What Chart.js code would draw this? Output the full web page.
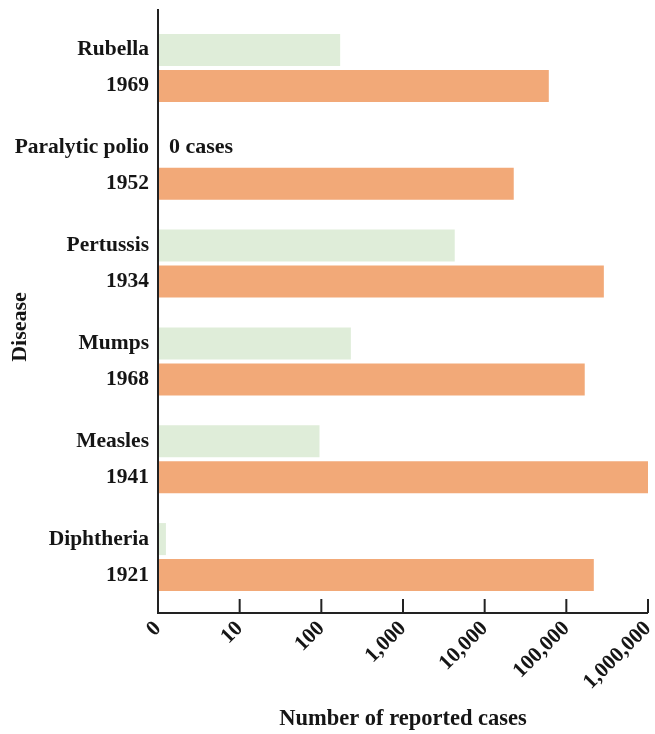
<!DOCTYPE html>
<html lang="en">
<head>
  <meta charset="UTF-8" />
  <title>Reported cases before and after vaccines</title>
  <script src="https://cdn.jsdelivr.net/npm/chart.js"></script>
  <style>
    body {
      margin: 0;
      padding: 0;
      background: #fff;
    }

    #chart-container {
      width: 655px;
      height: 734px;
    }
  </style>
</head>
<body>
  <div id="chart-container">
    <canvas id="myChart"></canvas>
  </div>

  <script>
    const diseases = ['Rubella', 'Paralytic polio', 'Pertussis', 'Mumps', 'Measles', 'Diphtheria'];
    const peakYears = ['1969', '1952', '1934', '1968', '1941', '1921'];
    const peakCases = [61000, 22700, 288000, 168000, 1000000, 217000];
    const recentCases = [170, 0, 4300, 230, 95, 1.25];
    const xTicks = [1, 10, 100, 1000, 10000, 100000, 1000000];

    const FONT = "'Liberation Serif', 'Times New Roman', serif";
    const INK = '#151515';

    // axes are drawn by hand: the vertical line runs past the bars and ticks point inward
    const axisPlugin = {
      id: 'axisLines',
      afterDatasetsDraw(chart) {
        const { ctx, chartArea, scales } = chart;
        const x = scales.x;
        const top = chartArea.top - 10;
        const base = chartArea.bottom + 7;
        ctx.save();
        ctx.strokeStyle = '#222';
        ctx.lineWidth = 2;
        ctx.beginPath();
        ctx.moveTo(chartArea.left, top);
        ctx.lineTo(chartArea.left, base);
        ctx.lineTo(chartArea.right, base);
        xTicks.forEach(v => {
          const px = x.getPixelForValue(v);
          ctx.moveTo(px, base - 14);
          ctx.lineTo(px, base);
        });
        ctx.stroke();

        // "0 cases" note where a bar would be
        const green = chart.getDatasetMeta(0).data;
        const orange = chart.getDatasetMeta(1).data;
        const step = orange[0].y - green[0].y;
        ctx.fillStyle = INK;
        ctx.font = 'bold 22px ' + FONT;
        ctx.textBaseline = 'middle';
        ctx.textAlign = 'left';
        recentCases.forEach((v, i) => {
          if (v === 0) ctx.fillText('0 cases', chartArea.left + 11, orange[i].y - step);
        });

        // y axis title
        ctx.font = 'bold 22px ' + FONT;
        ctx.textAlign = 'center';
        ctx.translate(20, (top + base) / 2 + 16);
        ctx.rotate(-Math.PI / 2);
        ctx.fillText('Disease', 0, 0);
        ctx.restore();
      }
    };

    const ctx = document.getElementById('myChart').getContext('2d');

    new Chart(ctx, {
      type: 'bar',
      data: {
        labels: diseases,
        datasets: [
          {
            label: 'Recent',
            data: recentCases.map(v => (v === 0 ? null : v)),
            backgroundColor: '#dfedd9'
          },
          {
            label: 'Peak year',
            data: peakCases,
            backgroundColor: '#f2a978'
          }
        ]
      },
      options: {
        indexAxis: 'y',
        responsive: true,
        maintainAspectRatio: false,
        animation: false,
        categoryPercentage: 0.736,
        barPercentage: 0.89,
        layout: {
          padding: { top: 19, right: 7, left: 0, bottom: 0 }
        },
        scales: {
          y: {
            type: 'category',
            grid: { display: false, drawTicks: false },
            border: { display: false },
            ticks: {
              padding: 9,
              color: INK,
              font: { family: FONT, size: 21.5, weight: 'bold', lineHeight: 36 / 21.5 },
              callback: (v, i) => [diseases[i], peakYears[i]]
            },
            afterFit: s => {
              s.width = 158;
              s.paddingTop = 0;
              s.paddingBottom = 0;
            }
          },
          x: {
            type: 'logarithmic',
            min: 1,
            max: 1000000,
            grid: { display: false, drawTicks: false },
            border: { display: false },
            afterBuildTicks: s => { s.ticks = xTicks.map(v => ({ value: v })); },
            ticks: {
              autoSkip: false,
              maxRotation: 45,
              minRotation: 45,
              padding: 10,
              color: INK,
              font: { family: FONT, size: 21.5, weight: 'bold' },
              callback: v => (v === 1 ? '0' : Number(v).toLocaleString('en-US'))
            },
            title: {
              display: true,
              text: 'Number of reported cases',
              color: INK,
              font: { family: FONT, size: 22.5, weight: 'bold' },
              padding: { top: 0, bottom: 1 }
            },
            afterFit: s => {
              s.height = 128;
              s.paddingLeft = 0;
              s.paddingRight = 0;
            }
          }
        },
        plugins: {
          legend: { display: false },
          tooltip: { enabled: false }
        }
      },
      plugins: [axisPlugin]
    });
  </script>
</body>
</html>
